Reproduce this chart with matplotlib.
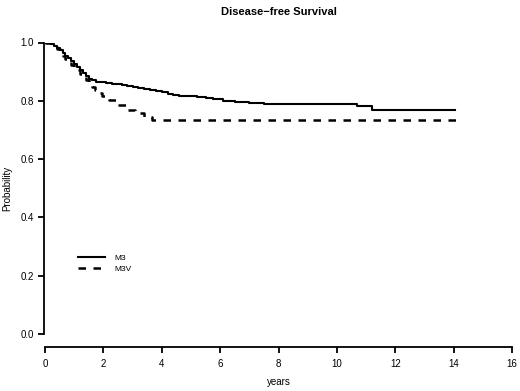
import matplotlib
matplotlib.use('Agg')
import matplotlib.pyplot as plt

plt.rcParams['font.family'] = ['Liberation Sans', 'DejaVu Sans']

# Kaplan-Meier style step curves (years, probability)
m3_years = [0, 0.1, 0.2, 0.3, 0.4, 0.5, 0.6, 0.7, 0.8, 0.9, 1.0, 1.1, 1.2, 1.3, 1.4, 1.5, 1.6,
            1.75, 1.9, 2.1, 2.3, 2.5, 2.65, 2.8, 3.0, 3.2, 3.4, 3.6, 3.8, 4.0, 4.2, 4.4, 4.6,
            4.9, 5.2, 5.5, 5.75, 6.1, 6.5, 7.0, 7.5, 10.68, 11.19, 14.05]
m3_prob = [1.0, 0.998, 0.994, 0.988, 0.981, 0.973, 0.964, 0.955, 0.946, 0.936, 0.926, 0.915,
           0.904, 0.894, 0.884, 0.876, 0.87, 0.866, 0.863, 0.861, 0.859, 0.857, 0.854, 0.851,
           0.848, 0.845, 0.841, 0.837, 0.833, 0.829, 0.825, 0.821, 0.818, 0.815, 0.812, 0.809,
           0.805, 0.801, 0.797, 0.792, 0.789, 0.783, 0.768, 0.768]

m3v_years = [0, 0.1, 0.2, 0.3, 0.4, 0.5, 0.6, 0.7, 0.8, 0.9, 1.0, 1.1, 1.2, 1.3, 1.4, 1.5, 1.6,
             1.7, 1.8, 1.95, 2.2, 2.5, 2.8, 3.1, 3.4, 3.65, 14.3]
m3v_prob = [1.0, 0.997, 0.992, 0.985, 0.976, 0.966, 0.955, 0.944, 0.934, 0.924, 0.914, 0.904,
            0.893, 0.882, 0.87, 0.858, 0.846, 0.836, 0.826, 0.817, 0.803, 0.786, 0.767, 0.757,
            0.743, 0.734, 0.734]

x_ticks = [0, 2, 4, 6, 8, 10, 12, 14, 16]
y_ticks = [0.0, 0.2, 0.4, 0.6, 0.8, 1.0]

W, H = 520, 391
fig = plt.figure(figsize=(W / 100, H / 100), dpi=100)
ax = fig.add_axes([45 / W, 1 - 334 / H, (512 - 45) / W, (334 - 42.5) / H])

ax.plot(m3_years, m3_prob, drawstyle='steps-post', color='black', lw=1.5, label='M3')
ax.plot(m3v_years, m3v_prob, drawstyle='steps-post', color='black', lw=1.8,
        dashes=(3, 3), label='M3V')

ax.set_xlim(0, 16)
ax.set_ylim(0, 1)
ax.set_xticks(x_ticks)
ax.set_yticks(y_ticks)
ax.set_yticklabels([f'{v:.1f}' for v in y_ticks])

for s in ['top', 'right']:
    ax.spines[s].set_visible(False)
ax.spines['bottom'].set_position(('outward', 9))
ax.spines['left'].set_position(('outward', 1))
for s in ['bottom', 'left']:
    ax.spines[s].set_linewidth(1.3)
ax.tick_params(axis='both', direction='out', length=4, width=1.3, labelsize=7)
ax.tick_params(axis='x', pad=5)
ax.tick_params(axis='y', pad=3)

ax.set_xlabel('years', fontsize=7, labelpad=6)
ax.set_ylabel('Probability', fontsize=7, labelpad=6)
ax.set_title('Disease\u2212free Survival', fontsize=8, fontweight='bold', pad=20)

ax.legend(loc='upper left', bbox_to_anchor=(0.055, 0.30), frameon=False, fontsize=6,
          handlelength=3.2, handletextpad=1.2, labelspacing=0.4)

fig.savefig('out.png', dpi=100)
